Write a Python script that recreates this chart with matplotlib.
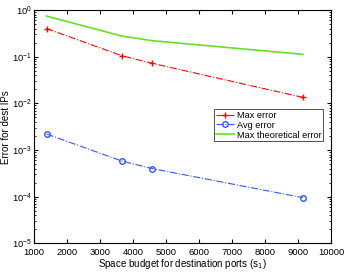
import numpy as np
import matplotlib
matplotlib.use('Agg')
import matplotlib.pyplot as plt
from matplotlib.ticker import LogLocator, NullFormatter

# Data
space_budget = [1380, 3660, 4580, 9150]
max_error = [0.40, 0.105, 0.072, 0.0134]
avg_error = [0.0022, 0.00058, 0.00040, 0.000095]
max_theory = [0.74, 0.277, 0.22, 0.112]

plt.rcParams['font.family'] = ['Liberation Sans', 'DejaVu Sans']
plt.rcParams['font.size'] = 7

fig = plt.figure(figsize=(3.46, 2.72), dpi=100)
ax = fig.add_axes([34 / 346, 1 - 243.3 / 272, 297 / 346, 233.3 / 272])

ax.plot(space_budget, max_error, color='red', linestyle='-.', marker='+',
        markersize=5, linewidth=0.8, label='Max error')
ax.plot(space_budget, avg_error, color='#3355ff', linestyle='-.', marker='o',
        markersize=4, markerfacecolor='none', linewidth=0.8, label='Avg error')
ax.plot(space_budget, max_theory, color='#66e020', linestyle='-',
        linewidth=1.2, label='Max theoretical error')

ax.set_yscale('log')
ax.set_xlim(1000, 10000)
ax.set_ylim(1e-5, 1)
ax.set_xticks(np.arange(1000, 10001, 1000))
ax.yaxis.set_major_locator(LogLocator(base=10))
ax.yaxis.set_minor_locator(LogLocator(base=10, subs=np.arange(2, 10)))
ax.yaxis.set_minor_formatter(NullFormatter())

ax.tick_params(which='both', direction='in', top=True, right=True, labelsize=6.8)
ax.tick_params(which='major', length=3, pad=1.5)
ax.tick_params(axis='x', which='major', pad=3.5)
ax.tick_params(which='minor', length=1.5)

ax.set_xlabel('Space budget for destination ports (s$_1$)', labelpad=-0.3)
ax.set_ylabel('Error for dest IPs')
ax.yaxis.set_label_coords(-0.077, 0.5)

leg = ax.legend(loc='upper left', bbox_to_anchor=(0.606, 0.576), fontsize=6.6,
                frameon=True, fancybox=False, edgecolor='black',
                borderpad=0.2, labelspacing=0.1, handlelength=2.0,
                handletextpad=0.3, borderaxespad=0)
leg.get_frame().set_linewidth(0.6)

fig.savefig('out.png', dpi=100)
